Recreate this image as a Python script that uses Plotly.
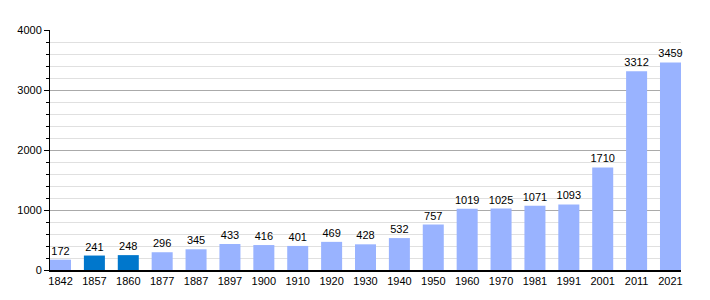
import plotly.graph_objects as go

years = ["1842", "1857", "1860", "1877", "1887", "1897", "1900", "1910", "1920", "1930",
         "1940", "1950", "1960", "1970", "1981", "1991", "2001", "2011", "2021"]
population = [172, 241, 248, 296, 345, 433, 416, 401, 469, 428,
              532, 757, 1019, 1025, 1071, 1093, 1710, 3312, 3459]
highlight = ["1857", "1860"]

colors = ["#0077cc" if y in highlight else "#99b3ff" for y in years]

fig = go.Figure(go.Bar(
    x=years, y=population,
    marker=dict(color=colors, line=dict(width=0)),
    width=0.62,
    text=[str(v) for v in population],
    textposition="outside",
    textfont=dict(family="Liberation Sans, Arial", size=11, color="black"),
    cliponaxis=False,
))

fig.update_layout(
    width=710, height=300,
    margin=dict(l=50, r=29, t=30, b=30),
    plot_bgcolor="white", paper_bgcolor="white",
    showlegend=False,
    uniformtext=dict(minsize=11, mode="show"),
    font=dict(family="Liberation Sans, Arial", size=11, color="black"),
    xaxis=dict(
        type="category",
        range=[-0.31, 18.31],
        showline=True, linecolor="black", linewidth=2,
        ticks="", showgrid=False,
        tickfont=dict(size=11),
    ),
    yaxis=dict(
        range=[0, 4000],
        dtick=1000,
        showline=True, linecolor="black", linewidth=1,
        ticks="outside", ticklen=5, tickcolor="black",
        showgrid=True, gridcolor="#aaaaaa", gridwidth=1,
        zeroline=False,
        tickfont=dict(size=11),
        minor=dict(dtick=200, ticks="outside", ticklen=3, tickcolor="black",
                   showgrid=True, gridcolor="#e0e0e0", gridwidth=1),
    ),
)

fig.write_html("out.html")
